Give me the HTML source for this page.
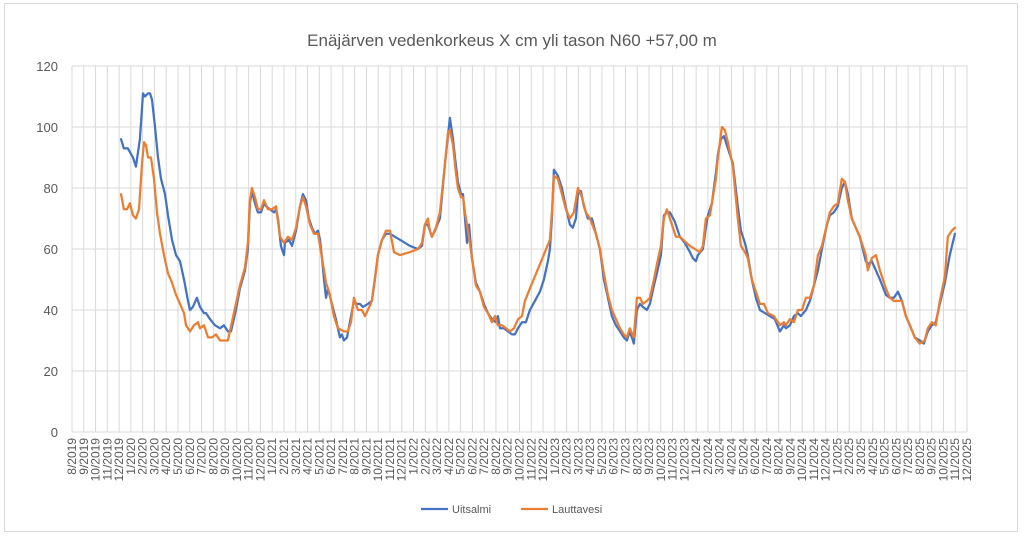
<!DOCTYPE html>
<html><head><meta charset="utf-8"><style>
body{margin:0;background:#fff;}
svg{display:block;font-family:"Liberation Sans",sans-serif;}
</style></head><body>
<svg id="chart" width="1024" height="536">
<rect x="4.5" y="3.5" width="1013" height="528" fill="#fff" stroke="#d9d9d9"/>
<text x="512" y="46" text-anchor="middle" font-size="17" fill="#595959">Enäjärven vedenkorkeus X cm yli tason N60 +57,00 m</text>
<g id="grid"></g><g id="series"></g>
<g>
<line x1="421" y1="509" x2="448" y2="509" stroke="#4472C4" stroke-width="2.25"/>
<text x="452" y="513" font-size="11" fill="#595959">Uitsalmi</text>
<line x1="521" y1="509" x2="548" y2="509" stroke="#ED7D31" stroke-width="2.25"/>
<text x="552" y="513" font-size="11" fill="#595959">Lauttavesi</text>
</g>
</svg>
<script>
const yTicks=[0,20,40,60,80,100,120];
const startMonth=8, startYear=2019, monthCount=77;
const uitM=[4.16,4.41,4.75,5.18,5.43,5.77,6.03,6.20,6.45,6.62,6.79,7.05,7.30,7.56,7.90,8.15,8.49,8.83,9.17,9.51,9.85,10.02,10.27,10.61,10.87,11.21,11.38,11.72,12.14,12.57,12.90,13.24,13.50,13.92,14.26,14.69,14.94,15.11,15.28,15.54,15.79,16.05,16.30,16.47,16.81,17.15,17.32,17.49,17.74,18.00,18.08,18.42,18.68,19.02,19.36,19.61,19.87,20.12,20.38,20.63,20.89,21.06,21.23,21.40,21.57,21.74,22.07,22.41,22.75,22.92,23.09,23.35,23.60,23.94,24.20,24.45,24.71,25.13,25.47,25.72,25.98,26.32,26.66,27.00,27.85,28.70,29.38,29.72,29.97,30.22,30.39,30.56,30.82,31.24,31.67,31.92,32.09,32.35,32.52,32.77,33.03,33.20,33.37,33.54,33.71,33.96,34.30,34.64,34.98,35.32,35.66,36.00,36.17,36.34,36.68,37.02,37.36,37.61,37.87,38.21,38.54,38.88,39.31,39.73,40.07,40.41,40.58,40.75,40.92,41.26,41.60,41.86,42.28,42.53,42.79,42.96,43.21,43.47,43.81,44.15,44.49,44.83,45.17,45.51,45.85,46.19,46.53,46.86,47.12,47.37,47.63,47.71,47.97,48.22,48.48,48.82,49.07,49.41,49.67,50.01,50.26,50.52,50.77,51.19,51.62,52.04,52.47,52.72,52.98,53.15,53.57,53.83,54.00,54.34,54.68,54.85,55.10,55.36,55.70,56.12,56.54,56.80,57.14,57.39,57.73,58.07,58.41,58.84,59.26,59.68,60.11,60.45,60.62,60.96,61.30,61.64,61.89,62.32,62.66,63.00,63.34,63.68,64.10,64.35,64.69,65.03,65.37,65.63,65.88,66.05,66.22,66.56,66.90,67.41,67.58,67.92,68.26,68.60,69.11,69.45,69.79,70.13,70.47,70.81,71.15,71.57,72.00,72.33,72.67,73.01,73.35,73.69,74.12,74.54,74.97];
const uitV=[96,93,93,90,87,96,111,110,111,111,109,100,90,83,78,71,63,58,56,50,43,40,41,44,41,39,39,37,35,34,35,33,33,40,47,53,60,75,79,75,72,72,75,74,73,72,73,70,61,58,62,63,61,66,74,78,76,70,67,65,66,63,57,50,44,47,42,37,31,32,30,31,36,43,42,42,41,42,43,50,58,63,65,65,63,61,60,61,68,68,66,64,66,70,88,97,103,96,90,82,78,78,70,62,68,57,49,46,42,39,37,36,38,34,34,33,32,32,34,36,36,40,43,46,50,56,60,70,86,84,80,75,68,67,70,78,79,74,70,70,65,60,50,44,38,35,33,31,30,33,30,29,40,42,41,40,42,48,52,58,71,72,72,69,64,62,59,57,56,58,60,67,71,75,85,91,96,97,93,88,74,66,62,58,50,44,40,39,38,37,33,35,34,35,38,39,38,40,43,48,53,60,68,71,72,74,80,82,78,74,70,67,64,56,55,56,53,50,45,44,44,46,43,38,35,31,30,29,33,35,36,42,49,58,65];
const lauM=[4.16,4.41,4.67,4.92,5.18,5.43,5.69,5.94,6.11,6.28,6.45,6.71,6.96,7.22,7.47,7.81,8.15,8.49,8.83,9.17,9.51,9.68,10.02,10.36,10.70,10.87,11.21,11.55,11.89,12.23,12.57,13.24,13.58,13.92,14.26,14.69,14.94,15.11,15.28,15.54,15.79,16.05,16.30,16.64,16.98,17.32,17.66,18.00,18.34,18.68,19.02,19.36,19.61,19.87,20.21,20.55,20.89,21.23,21.57,21.90,22.24,22.58,23.09,23.43,23.69,23.94,24.28,24.62,24.88,25.13,25.47,25.98,26.32,26.66,27.00,27.34,27.85,28.70,29.38,29.72,29.97,30.22,30.39,30.56,30.90,31.24,31.67,31.92,32.09,32.35,32.60,32.77,33.03,33.20,33.37,33.79,34.30,34.64,34.98,35.32,35.66,35.91,36.17,36.51,36.85,37.19,37.53,37.87,38.21,38.46,38.88,39.31,39.73,40.16,40.58,40.75,40.92,41.26,41.60,41.94,42.28,42.62,42.96,43.30,43.64,43.98,44.49,44.83,45.17,45.51,45.85,46.19,46.53,46.86,47.12,47.37,47.71,47.97,48.22,48.48,48.82,49.07,49.41,49.67,50.01,50.26,50.52,50.94,51.28,51.62,52.47,53.32,53.57,53.83,54.17,54.68,54.85,55.19,55.44,55.70,56.12,56.54,56.80,57.14,57.39,57.73,58.07,58.41,58.75,59.09,59.60,60.11,60.45,60.62,60.96,61.30,61.64,61.98,62.32,62.66,63.00,63.34,63.68,64.10,64.35,64.69,65.03,65.37,65.63,65.88,66.22,66.56,66.90,67.41,67.58,67.92,68.26,68.60,69.11,69.45,69.79,70.13,70.47,70.81,71.15,71.57,72.00,72.42,72.67,73.01,73.35,73.69,74.12,74.37,74.71,74.97];
const lauV=[78,73,73,75,71,70,73,88,95,94,90,90,83,72,65,58,52,49,45,42,39,35,33,35,36,34,35,31,31,32,30,30,36,42,48,54,62,76,80,77,73,73,76,73,73,74,64,62,64,63,67,74,77,74,68,65,65,57,49,45,38,34,33,33,36,44,40,40,38,40,43,58,63,66,66,59,58,59,60,62,68,70,66,64,67,72,88,98,99,94,85,80,77,77,72,62,48,46,41,39,36,38,35,35,34,33,34,37,38,43,47,51,55,59,63,72,84,83,78,73,70,72,80,77,72,70,65,60,52,45,40,37,34,32,31,34,31,44,44,42,43,44,50,55,61,70,73,68,64,64,61,59,61,70,71,83,90,100,99,95,87,70,61,59,57,50,46,42,42,39,38,35,36,35,37,36,40,40,44,44,48,58,61,68,72,74,75,83,82,76,70,67,64,58,53,57,58,53,47,44,43,43,43,38,35,31,29,30,34,36,35,43,51,64,66,67];
const X0=72,X1=967,Y0=432,Y1=66;
const xs=m=>X0+m*(X1-X0)/(monthCount-1);
const ys=v=>Y0-v*(Y0-Y1)/120;
const NS="http://www.w3.org/2000/svg";
const grid=document.getElementById('grid');
function mk(tag,attrs,parent){const e=document.createElementNS(NS,tag);for(const k in attrs)e.setAttribute(k,attrs[k]);parent.appendChild(e);return e;}
yTicks.forEach(t=>{
 const l=mk('line',{x1:X0,x2:X1,y1:ys(t),y2:ys(t),stroke:'#d9d9d9','stroke-width':1},grid);
 
 
 const tx=mk('text',{x:58,y:ys(t)+5,'text-anchor':'end','font-size':13,fill:'#595959'},grid);
 tx.textContent=t;
 
 
});
for(let i=0;i<monthCount;i++){
 const x=xs(i);
 const l=mk('line',{x1:x,x2:x,y1:Y1,y2:Y0,stroke:'#d9d9d9','stroke-width':1},grid);
 
 
 const mo=(startMonth-1+i)%12+1, yr=startYear+Math.floor((startMonth-1+i)/12);
 const tx=mk('text',{x:0,y:0,'text-anchor':'end','font-size':12,fill:'#595959',transform:`translate(${x+4},${Y0+6}) rotate(-90)`},grid);
 tx.textContent=mo+'/'+yr;
 
 
}
const ser=document.getElementById('series');
function line(M,V,col,name){
 const d=M.map((m,i)=>(i?'L':'M')+xs(m).toFixed(1)+','+ys(V[i]).toFixed(1)).join('');
 const p=mk('path',{d:d,fill:'none',stroke:col,'stroke-width':2.25,'stroke-linejoin':'round','stroke-linecap':'round'},ser);
 
 
}
line(uitM,uitV,'#4472C4','uitsalmi-line');
line(lauM,lauV,'#ED7D31','lauttavesi-line');
</script>
</body></html>
